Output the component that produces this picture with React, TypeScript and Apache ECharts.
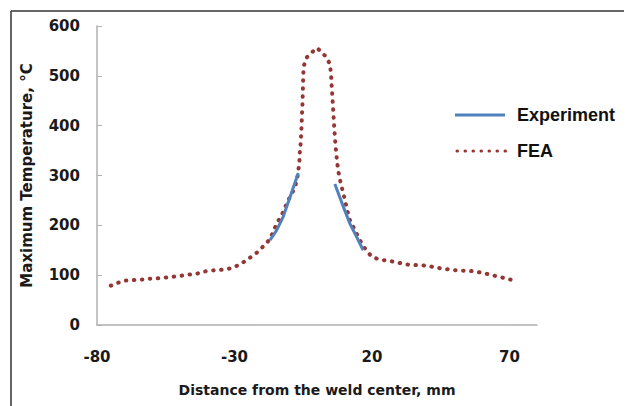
import React, { useEffect, useRef } from "react";
import * as echarts from "echarts";

const xTicks = [-80, -30, 20, 70];
const yTicks = [0, 100, 200, 300, 400, 500, 600];

const feaX = [-75, -72.2, -69.8, -66.8, -63.8, -60.5, -57, -53.7, -50.4, -46.8, -43.7, -40.4, -37, -33.8, -30.4, -27, -24.4, -21.9, -19.7, -17.3, -15.9, -14.7, -13.2, -12, -10.8, -9.2, -8, -7.2, -6.8, -6.4, -6.3, -6.0, -5.8, -5.6, -5.5, -5.3, -5.2, -5.1, -5.0, -4.8, -3.7, -1.9, 0, 2.1, 3.5, 4.7, 5.1, 5.3, 5.6, 5.9, 6.2, 6.5, 6.9, 7.4, 8.1, 9.3, 10.2, 11, 12, 13.8, 15.6, 17.5, 19.9, 22.9, 26, 29.6, 33.2, 36.8, 39.9, 43.5, 47.2, 50.2, 53.2, 56.8, 59.9, 62.9, 66, 69, 72.6];
const feaY = [79, 85, 89, 90, 91, 93, 94, 96, 98, 101, 103, 108, 110, 111, 115, 125, 135, 145, 157, 171, 187, 203, 217, 230, 247, 263, 277, 293, 310, 327, 343, 360, 380, 400, 420, 440, 460, 480, 503, 520, 537, 547, 556, 545, 537, 523, 503, 483, 457, 430, 403, 377, 350, 323, 297, 270, 250, 230, 210, 190, 170, 153, 137, 131, 129, 125, 121, 120, 119, 115, 112, 110, 109, 108, 105, 101, 97, 93, 88];

const expLeftX = [-17.1, -14.7, -12.3, -9.8, -6.8];
const expLeftY = [170, 190, 217, 257, 305];
const expRightX = [6.5, 9.6, 12, 14.4, 16.8];
const expRightY = [283, 237, 203, 177, 150];

const legendNames = ["Experiment", "FEA"];

const FONT = "DejaVu Sans";
const EXP_COLOR = "#4F81BD";
const FEA_COLOR = "#943634";
const FEA_DASH = [0.5, 7.5];

export default function App() {
  const ref = useRef<HTMLDivElement>(null);
  useEffect(() => {
    if (!ref.current) return;
    const chart = echarts.init(ref.current, null, { renderer: "svg" });
    const fea = feaX.map((x, i) => [x, feaY[i]]);
    const exp: any[] = expLeftX.map((x, i) => [x, expLeftY[i]]);
    exp.push(["-", "-"]);
    expRightX.forEach((x, i) => exp.push([x, expRightY[i]]));
    const labelStyle = { fontFamily: FONT, fontWeight: "bold", fontSize: 15, color: "#1a1a1a" };
    const legendText = { fontFamily: "Liberation Sans", fontWeight: "bold", fontSize: 18, fill: "#111" };
    chart.setOption({
      animation: false,
      backgroundColor: "#ffffff",
      grid: { left: 97, right: 96, top: 26, bottom: 81, containLabel: false },
      xAxis: {
        type: "value",
        min: xTicks[0],
        max: 80,
        interval: xTicks[1] - xTicks[0],
        name: "Distance from the weld center, mm",
        nameLocation: "middle",
        nameGap: 58,
        nameTextStyle: { fontFamily: FONT, fontWeight: "bold", fontSize: 14, color: "#1a1a1a" },
        axisLine: { show: true, onZero: false, lineStyle: { color: "#b0b0b0", width: 1.5 } },
        axisTick: { show: false },
        splitLine: { show: false },
        axisLabel: { ...labelStyle, margin: 24, showMaxLabel: false, showMinLabel: true },
      },
      yAxis: [
        {
          type: "value",
          min: yTicks[0],
          max: yTicks[yTicks.length - 1],
          interval: yTicks[1] - yTicks[0],
          position: "left",
          name: "Maximum Temperature, °C",
          nameLocation: "middle",
          nameGap: 63,
          nameTextStyle: { fontFamily: FONT, fontWeight: "bold", fontSize: 15, color: "#1a1a1a" },
          axisLine: { show: false },
          axisTick: { show: false },
          splitLine: { show: false },
          axisLabel: { ...labelStyle, margin: 17 },
        },
        {
          type: "value",
          min: yTicks[0],
          max: yTicks[yTicks.length - 1],
          interval: yTicks[1] - yTicks[0],
          position: "left",
          axisLine: { show: true, onZero: true, lineStyle: { color: "#b0b0b0", width: 1.5 } },
          axisTick: { show: true, inside: true, length: 5, lineStyle: { color: "#b0b0b0", width: 1 } },
          axisLabel: { show: false },
          splitLine: { show: false },
        },
      ],
      series: [
        {
          name: legendNames[0],
          type: "line",
          data: exp,
          showSymbol: false,
          symbol: "none",
          connectNulls: false,
          color: EXP_COLOR,
          lineStyle: { color: EXP_COLOR, width: 3 },
          z: 3,
        },
        {
          name: legendNames[1],
          type: "line",
          data: fea,
          showSymbol: false,
          symbol: "none",
          color: FEA_COLOR,
          lineStyle: { color: FEA_COLOR, width: 4, type: FEA_DASH, cap: "round" },
          z: 2,
        },
      ],
      graphic: [
        { type: "line", shape: { x1: 11, y1: 11, x2: 624, y2: 11 }, style: { stroke: "#333", lineWidth: 1.5 } },
        { type: "line", shape: { x1: 11, y1: 11, x2: 11, y2: 406 }, style: { stroke: "#333", lineWidth: 1.5 } },
        { type: "line", shape: { x1: 455, y1: 115, x2: 505, y2: 115 }, style: { stroke: EXP_COLOR, lineWidth: 3 } },
        { type: "text", x: 517, y: 115, style: { ...legendText, text: legendNames[0], verticalAlign: "middle" } },
        { type: "line", shape: { x1: 457, y1: 151, x2: 507, y2: 151 }, style: { stroke: FEA_COLOR, lineWidth: 3, lineDash: FEA_DASH, lineCap: "round" } },
        { type: "text", x: 517, y: 151, style: { ...legendText, text: legendNames[1], verticalAlign: "middle" } },
      ],
    });
    return () => chart.dispose();
  }, []);
  return <div ref={ref} style={{ position: "fixed", left: 0, top: 0, width: 633, height: 406 }} />;
}
